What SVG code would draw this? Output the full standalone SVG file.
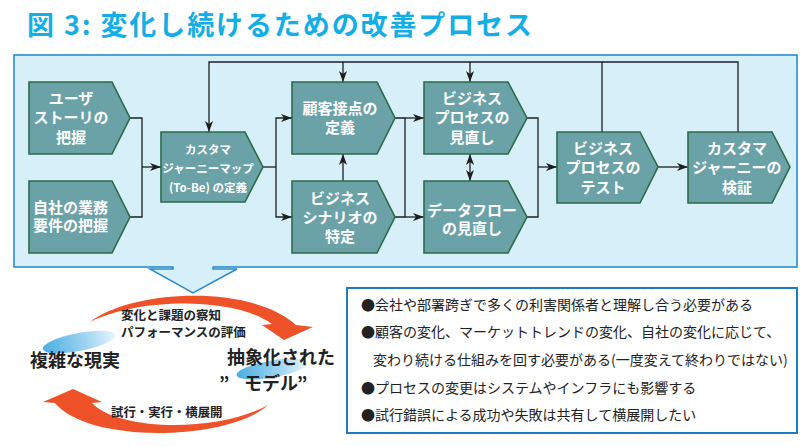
<svg xmlns="http://www.w3.org/2000/svg" width="810" height="447" viewBox="0 0 810 447">
<defs>
<style>
.node polygon{fill:#6aa2a8;stroke:#2c6b47;stroke-width:1.6}
.node text{fill:#ffffff;font-family:"Noto Sans CJK JP","Noto Sans",sans-serif;font-weight:bold;font-size:15px;text-anchor:middle}
.node text.sm{font-size:11.5px}
.conn path{fill:none;stroke:#1e1e1e;stroke-width:1.3}
.dark{fill:#222222;font-family:"Noto Sans CJK JP","Noto Sans",sans-serif;font-weight:bold}
.note{fill:#222222;font-family:"Noto Sans CJK JP","Noto Sans",sans-serif;font-size:14px}
</style>
<marker id="ah" viewBox="0 0 11 8" refX="11" refY="4" markerWidth="11" markerHeight="8" markerUnits="userSpaceOnUse" orient="auto-start-reverse">
<path d="M0,0 L11,4 L0,8 L3,4 Z" fill="#1e1e1e"/>
</marker>
<linearGradient id="bl1" x1="0" y1="0" x2="1" y2="0">
<stop offset="0" stop-color="#4aaee2"/>
<stop offset="0.6" stop-color="#9fd4f2"/>
<stop offset="1" stop-color="#e6f5fd"/>
</linearGradient>
</defs>
<rect width="810" height="447" fill="#ffffff"/>
<text x="27" y="35" font-family="'Noto Sans CJK JP','Noto Sans',sans-serif" font-weight="bold" font-size="27" fill="#14aee6" textLength="505" lengthAdjust="spacing">図 3: 変化し続けるための改善プロセス</text>

<g id="panel">
<rect x="14" y="55" width="783" height="212" fill="#d7eff8" stroke="#2a8ccc" stroke-width="1.6"/>
</g>
<g id="down-arrow">
<polygon points="173,265 173,269 150,269 193,293 237,269 213,269 213,265" fill="#d7eff8" stroke="none"/>
<polyline points="173,266.5 173,269 150,269 193,293 237,269 213,269 213,266.5" fill="none" stroke="#2a8ccc" stroke-width="1.5"/>
</g>

<g class="conn" id="connectors">
<path d="M130,118 H142 V217 H130"/>
<path d="M142,167 H161" marker-end="url(#ah)"/>
<path d="M263,167 H276"/>
<path d="M292,118 H276 V217 H292" marker-start="url(#ah)" marker-end="url(#ah)"/>
<path d="M602,132 V62 H209 V132" marker-end="url(#ah)"/>
<path d="M738,132 V62 H602"/>
<path d="M343,62 V82" marker-end="url(#ah)"/>
<path d="M470,62 V82" marker-end="url(#ah)"/>
<path d="M343,181 V154" marker-end="url(#ah)"/>
<path d="M395,118 H405 V217 H395"/>
<path d="M405,118 H424" marker-end="url(#ah)"/>
<path d="M405,217 H424" marker-end="url(#ah)"/>
<path d="M470,154 V181" marker-start="url(#ah)" marker-end="url(#ah)"/>
<path d="M527,118 H538 V217 H527"/>
<path d="M538,167 H557" marker-end="url(#ah)"/>
<path d="M658,167 H688" marker-end="url(#ah)"/>
</g>

<g class="node" id="n1">
<polygon points="29,82 112,82 130,118 112,154 29,154"/>
<text x="71" y="103.5">ユーザ</text>
<text x="71" y="123">ストーリの</text>
<text x="71" y="142.5">把握</text>
</g>
<g class="node" id="n2">
<polygon points="29,181 112,181 130,217 112,253 29,253"/>
<text x="70.5" y="212.5">自社の業務</text>
<text x="70.5" y="231">要件の把握</text>
</g>
<g class="node" id="n3">
<polygon points="161,132 245,132 263,167 245,202 161,202"/>
<text class="sm" x="208" y="153.5">カスタマ</text>
<text class="sm" x="208" y="172.5">ジャーニーマップ</text>
<text class="sm" x="208" y="191.5">(To-Be) の定義</text>
</g>
<g class="node" id="n4">
<polygon points="292,82 377,82 395,118 377,154 292,154"/>
<text x="340" y="113.7">顧客接点の</text>
<text x="340" y="132.7">定義</text>
</g>
<g class="node" id="n5">
<polygon points="292,181 377,181 395,217 377,253 292,253"/>
<text x="340" y="203.7">ビジネス</text>
<text x="340" y="222.7">シナリオの</text>
<text x="340" y="241.7">特定</text>
</g>
<g class="node" id="n6">
<polygon points="424,82 508,82 527,118 508,154 424,154"/>
<text x="472" y="103.7">ビジネス</text>
<text x="472" y="123.2">プロセスの</text>
<text x="472" y="142.7">見直し</text>
</g>
<g class="node" id="n7">
<polygon points="424,181 508,181 527,217 508,253 424,253"/>
<text x="472" y="215.7">データフロー</text>
<text x="472" y="233.7">の見直し</text>
</g>
<g class="node" id="n8">
<polygon points="557,132 640,132 658,167 640,203 557,203"/>
<text x="603" y="153.7">ビジネス</text>
<text x="603" y="173.2">プロセスの</text>
<text x="603" y="192.7">テスト</text>
</g>
<g class="node" id="n9">
<polygon points="688,132 772,132 790,167 772,203 688,203"/>
<text x="737" y="153.7">カスタマ</text>
<text x="737" y="173.2">ジャーニーの</text>
<text x="737" y="192.7">検証</text>
</g>

<g id="cycle">
<ellipse cx="79" cy="342" rx="37" ry="9" fill="url(#bl1)" transform="rotate(-11 79 342)"/>
<ellipse cx="272" cy="369" rx="36" ry="8.5" fill="url(#bl1)" transform="rotate(-10 272 369)"/>
<path d="M90,322 C130,290 250,283 296,325 L313,327 L284,340 L262,325 L272,324 C235,297 140,297 90,322 Z" fill="#ef5128"/>
<path d="M268,405 C230,440 90,445 55,403 L43,402 L73,389 L102,402 L92,403 C120,432 220,432 268,405 Z" fill="#ef5128"/>
<text class="dark" x="121" y="319.5" font-size="12.5">変化と課題の察知</text>
<text class="dark" x="121" y="336.5" font-size="12.5">パフォーマンスの評価</text>
<text class="dark" x="30" y="367" font-size="18">複雑な現実</text>
<text class="dark" x="227" y="364" font-size="18">抽象化された</text>
<text class="dark" y="390" font-size="18"><tspan x="219">”</tspan><tspan x="244">モデル</tspan><tspan x="297">”</tspan></text>
<text class="dark" x="111" y="417" font-size="12.4">試行・実行・横展開</text>
</g>

<g id="notes">
<rect x="347" y="288" width="450" height="145" fill="#ffffff" stroke="#1e7cc2" stroke-width="2"/>
<text class="note" x="361" y="310.3">●会社や部署跨ぎで多くの利害関係者と理解し合う必要がある</text>
<text class="note" x="361" y="337.3">●顧客の変化、マーケットトレンドの変化、自社の変化に応じて、</text>
<text class="note" x="373" y="365.3">変わり続ける仕組みを回す必要がある(一度変えて終わりではない)</text>
<text class="note" x="361" y="393.3">●プロセスの変更はシステムやインフラにも影響する</text>
<text class="note" x="361" y="420.3">●試行錯誤による成功や失敗は共有して横展開したい</text>
</g>
</svg>
